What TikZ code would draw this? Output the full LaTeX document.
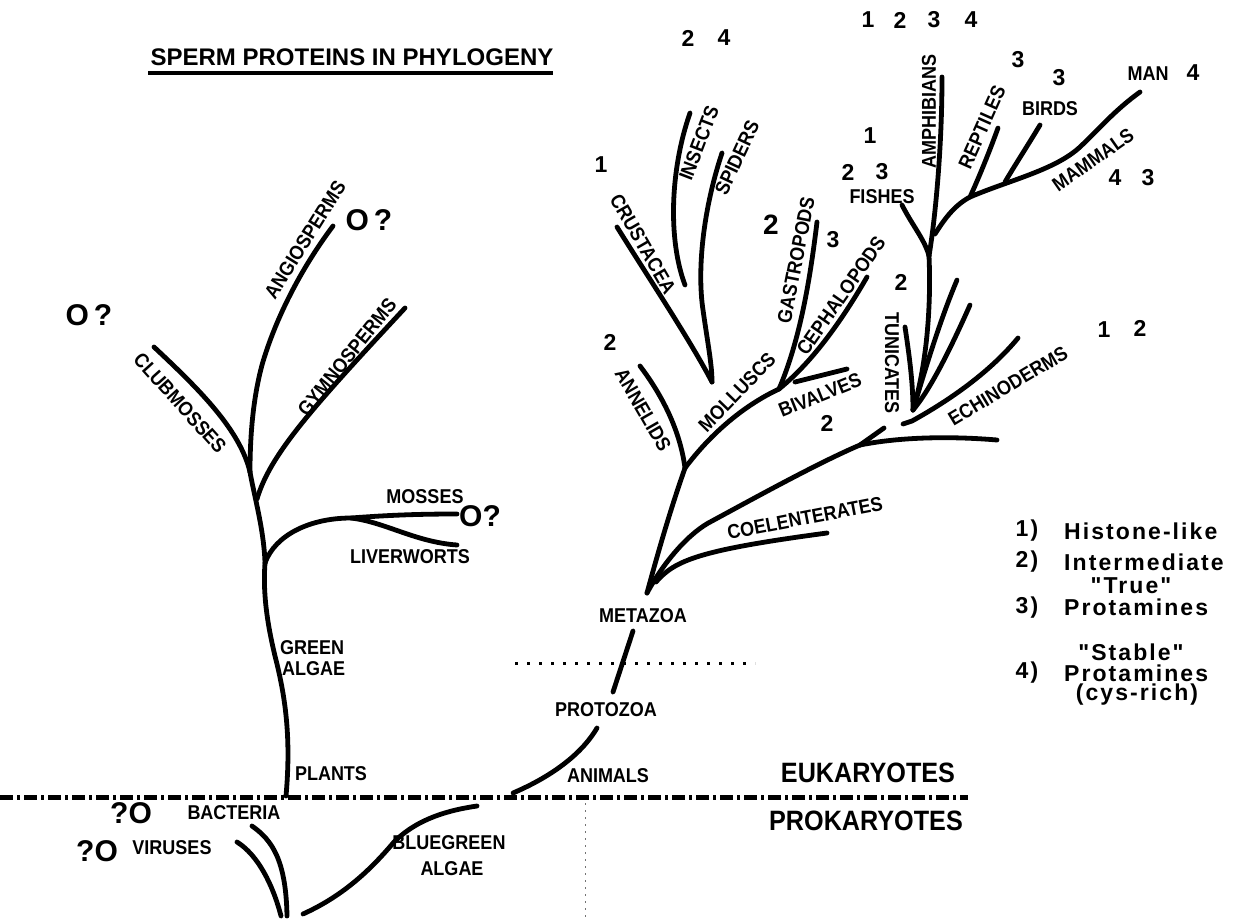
\documentclass[tikz,border=0pt]{standalone}
\usepackage{fontspec}
\setmainfont{Liberation Sans}
\newfontfamily\labfont{Liberation Sans}[FakeStretch=0.9]
\newfontfamily\legfont{Liberation Sans}[LetterSpace=9]
\tikzset{
  br/.style={line width=4.8pt, line cap=round, line join=round},
  lab/.style={font=\labfont\bfseries\fontsize{20}{22}\selectfont, inner sep=0pt},
  num/.style={font=\bfseries\fontsize{23}{25}\selectfont, inner sep=0pt},
  bignum/.style={font=\bfseries\fontsize{28}{30}\selectfont, inner sep=0pt},
  qo/.style={font=\bfseries\fontsize{30}{32}\selectfont, inner sep=0pt},
  leg/.style={font=\legfont\bfseries\fontsize{23}{25}\selectfont, inner sep=0pt},
  ttl/.style={font=\bfseries\fontsize{24}{27}\selectfont, inner sep=0pt},
  big/.style={font=\labfont\bfseries\fontsize{28}{30}\selectfont, inner sep=0pt},
}
\begin{document}
\begin{tikzpicture}[x=1pt,y=-1pt]
\useasboundingbox (0,0) rectangle (1243,919);
\fill[white] (0,0) rectangle (1243,919);
% title
\node[ttl] (title) at (352,57) {SPERM PROTEINS IN PHYLOGENY};
\coordinate (ul1) at (148,73); \coordinate (ul2) at (553,73);
\draw[line width=3.5pt] (ul1) -- (ul2);

% separators
\coordinate (dl) at (0,797); \coordinate (dr) at (968,797);
\draw[line width=5pt, dash pattern=on 13pt off 4pt on 3pt off 4pt] (dl) -- (dr);
\coordinate (d1) at (515,663); \coordinate (d2) at (755,663);
\draw[line width=3pt, dash pattern=on 3pt off 9pt] (d1) -- (d2);
\coordinate (v1) at (585,803); \coordinate (v2) at (585,919);
\draw[black!55, line width=1pt, dash pattern=on 2pt off 5pt] (v1) -- (v2);

% ---------------- left tree
\coordinate (vir) at (237,842);
\coordinate (bac) at (252,826);
\coordinate (bg) at (477,806);
\coordinate (bgR) at (303,914);
\coordinate (plR) at (286,796);
\coordinate (jMo) at (265,563);
\coordinate (jGy) at (257,499);
\coordinate (jCl) at (250,472);
\coordinate (angT) at (333,226);
\coordinate (gymT) at (405,308);
\coordinate (cluT) at (154,347);
\coordinate (jLv) at (351,518);
\coordinate (mosT) at (457,514);
\coordinate (livT) at (457,545);

\draw[br] (vir) .. controls (258,855) and (273,885) .. (281,916);
\draw[br] (bac) .. controls (272,840) and (286,860) .. (287,916);
\draw[br] (bgR) .. controls (345,895) and (372,868) .. (394,842) .. controls (418,818) and (450,810) .. (bg);
\draw[br] (plR) .. controls (291,740) and (286,700) .. (276,660) .. controls (266,620) and (263,590) .. (jMo);
\draw[br] (jMo) .. controls (264,530) and (254,495) .. (jCl);
\draw[br] (jCl) .. controls (250,430) and (254,395) .. (262,365) .. controls (275,320) and (300,270) .. (angT);
\draw[br] (cluT) .. controls (200,390) and (240,430) .. (jCl);
\draw[br] (jGy) .. controls (270,455) and (310,410) .. (gymT);
\draw[br] (jMo) .. controls (275,535) and (310,518) .. (jLv) .. controls (390,515) and (420,514) .. (mosT);
\draw[br] (jLv) .. controls (385,522) and (415,542) .. (livT);

\node[qo] (qv) at (97,851) {?O};
\node[lab] (tvir) at (172,848) {VIRUSES};
\node[qo] (qb) at (131,813) {?O};
\node[lab] (tbac) at (234,813) {BACTERIA};
\node[lab] (tbg1) at (449,843) {BLUEGREEN};
\node[lab] (tbg2) at (452,869) {ALGAE};
\node[lab] (tpl) at (331,774) {PLANTS};
\node[lab, anchor=west] (tga1) at (280,648) {GREEN};
\node[lab, anchor=west] (tga2) at (282,669) {ALGAE};
\node[lab] (tliv) at (410,557) {LIVERWORTS};
\node[lab] (tmos) at (425,497) {MOSSES};
\node[qo] (qmos) at (480,516) {O?};
\node[lab, rotate=-48] (tclu) at (180,403) {CLUBMOSSES};
\node[qo] (qclu) at (89,315) {O\,?};
\node[lab, rotate=58] (tang) at (305,240) {ANGIOSPERMS};
\node[qo] (qang) at (369,220) {O\,?};
\node[lab, rotate=51] (tgym) at (347,357) {GYMNOSPERMS};

% ---------------- right tree
\coordinate (anB) at (513,793);
\coordinate (anT) at (597,728);
\coordinate (prB) at (613,692);
\coordinate (prT) at (633,631);
\coordinate (jMe) at (647,593);
\coordinate (jAM) at (685,468);
\coordinate (annT) at (640,366);
\coordinate (jMol) at (779,389);
\coordinate (gasT) at (817,222);
\coordinate (cepT) at (867,277);
\coordinate (bivA) at (795,382);
\coordinate (bivB) at (847,369);
\coordinate (jCr) at (712,382);
\coordinate (cruT) at (617,227);
\coordinate (spiT) at (722,153);
\coordinate (insT) at (690,113);
\coordinate (insB) at (685,285);
\coordinate (jEc) at (860,445);
\coordinate (ecE) at (997,440);
\coordinate (coeB) at (656,582);
\coordinate (coeT) at (827,533);
\coordinate (chB) at (884,428);
\coordinate (ecdA) at (903,424);
\coordinate (ecdT) at (1018,338);
\coordinate (jTu) at (913,410);
\coordinate (tuL) at (905,327);
\coordinate (jFi) at (929,256);
\coordinate (tuR1) at (957,280);
\coordinate (tuR2) at (970,305);
\coordinate (fiT) at (902,205);
\coordinate (amT) at (942,77);
\coordinate (jAmn) at (935,234);
\coordinate (jRe) at (970,197);
\coordinate (reT) at (998,128);
\coordinate (biB) at (1005,182);
\coordinate (biT) at (1040,125);
\coordinate (maT) at (1140,92);

\draw[br] (anB) .. controls (555,775) and (583,752) .. (anT);
\draw[br] (prB) -- (prT);
\draw[br] (jMe) .. controls (660,545) and (672,505) .. (jAM);
\draw[br] (jAM) .. controls (680,430) and (662,395) .. (annT);
\draw[br] (jAM) .. controls (712,432) and (745,405) .. (jMol);
\draw[br] (jMol) .. controls (800,340) and (810,280) .. (gasT);
\draw[br] (jMol) .. controls (815,360) and (845,315) .. (cepT);
\draw[br] (bivA) -- (bivB);
\draw[br] (cruT) .. controls (650,280) and (690,340) .. (jCr);
\draw[br] (spiT) .. controls (703,210) and (697,270) .. (703,310) .. controls (708,345) and (712,365) .. (jCr);
\draw[br] (insT) .. controls (670,170) and (668,240) .. (insB);
\draw[br] (jMe) .. controls (665,560) and (690,532) .. (712,521) .. controls (760,495) and (820,462) .. (jEc);
\draw[br] (jEc) .. controls (900,437) and (950,436) .. (ecE);
\draw[br] (coeB) .. controls (675,560) and (700,550) .. (coeT);
\draw[br] (jEc) -- (chB);
\draw[br] (ecdA) -- (912,421) .. controls (950,400) and (990,372) .. (ecdT);
\draw[br] (tuL) .. controls (910,360) and (913,385) .. (jTu);
\draw[br] (jFi) .. controls (931,300) and (928,360) .. (jTu);
\draw[br] (tuR1) .. controls (940,320) and (925,370) .. (jTu);
\draw[br] (tuR2) .. controls (950,350) and (930,390) .. (jTu);
\draw[br] (fiT) .. controls (912,225) and (925,240) .. (jFi);
\draw[br] (jFi) .. controls (935,220) and (942,150) .. (amT);
\draw[br] (jAmn) .. controls (945,218) and (955,205) .. (jRe);
\draw[br] (jRe) .. controls (980,175) and (990,150) .. (reT);
\draw[br] (biB) .. controls (1015,165) and (1028,145) .. (biT);
\draw[br] (jRe) .. controls (1010,180) and (1055,170) .. (1080,147) .. controls (1100,128) and (1115,110) .. (maT);

\node[lab] (tani) at (608,776) {ANIMALS};
\node[lab] (tpro) at (606,710) {PROTOZOA};
\node[lab] (tmet) at (643,616) {METAZOA};
\node[big] (teuk) at (868,773) {EUKARYOTES};
\node[big] (tprk) at (866,821) {PROKARYOTES};
\node[lab, rotate=11] (tcoe) at (805,518) {COELENTERATES};
\node[num] (n2an) at (610,342) {2};
\node[lab, rotate=-60] (tann) at (643,410) {ANNELIDS};
\node[lab, rotate=46] (tmol) at (737,392) {MOLLUSCS};
\node[lab, rotate=22] (tbiv) at (820,395) {BIVALVES};
\node[num] (n2bi) at (827,423) {2};
\node[lab, rotate=79] (tgas) at (796,260) {GASTROPODS};
\node[bignum] (n2ga) at (771,225) {2};
\node[lab, rotate=55] (tcep) at (841,296) {CEPHALOPODS};
\node[num] (n3ce) at (833,240) {3};
\node[num] (n1cr) at (601,165) {1};
\node[lab, rotate=-60] (tcru) at (643,244) {CRUSTACEA};
\node[lab, rotate=69] (tins) at (699,143) {INSECTS};
\node[lab, rotate=65] (tspi) at (737,158) {SPIDERS};
\node[num] (n2in) at (688,38) {2};
\node[num] (n4in) at (724,38) {4};
\node[lab, rotate=-90] (ttun) at (892,363) {TUNICATES};
\node[num] (n2tu) at (901,282) {2};
\node[lab] (tfis) at (882,197) {FISHES};
\node[num] (n1fi) at (870,136) {1};
\node[num] (n2fi) at (848,172) {2};
\node[num] (n3fi) at (882,172) {3};
\node[num] (n1am) at (868,20) {1};
\node[num] (n2am) at (900,20) {2};
\node[num] (n3am) at (934,20) {3};
\node[num] (n4am) at (971,20) {4};
\node[lab, rotate=90] (tamp) at (929,111) {AMPHIBIANS};
\node[lab, rotate=66] (trep) at (982,127) {REPTILES};
\node[num] (n3re) at (1018,60) {3};
\node[lab] (tbir) at (1050,109) {BIRDS};
\node[num] (n3bi) at (1059,78) {3};
\node[lab] (tman) at (1148,74) {MAN};
\node[num] (n4ma) at (1193,73) {4};
\node[lab, rotate=35] (tmam) at (1093,160) {MAMMALS};
\node[num] (n4mm) at (1115,178) {4};
\node[num] (n3mm) at (1148,178) {3};
\node[lab, rotate=31] (tech) at (1008,386) {ECHINODERMS};
\node[num] (n1ec) at (1104,330) {1};
\node[num] (n2ec) at (1140,328) {2};

% legend
\node[leg] (l1) at (1027,531) {1)};
\node[leg, anchor=west] (h1) at (1064,531) {Histone-like};
\node[leg] (l2) at (1027,562) {2)};
\node[leg, anchor=west] (h2) at (1064,562) {Intermediate};
\node[leg] (l3) at (1027,608) {3)};
\node[leg] (h3a) at (1131,586) {"True"};
\node[leg, anchor=west] (h3b) at (1064,607) {Protamines};
\node[leg] (l4) at (1027,673) {4)};
\node[leg] (h4a) at (1131,652) {"Stable"};
\node[leg, anchor=west] (h4b) at (1064,673) {Protamines};
\node[leg] (h4c) at (1137,695) {(cys-rich)};
\end{tikzpicture}
\end{document}
